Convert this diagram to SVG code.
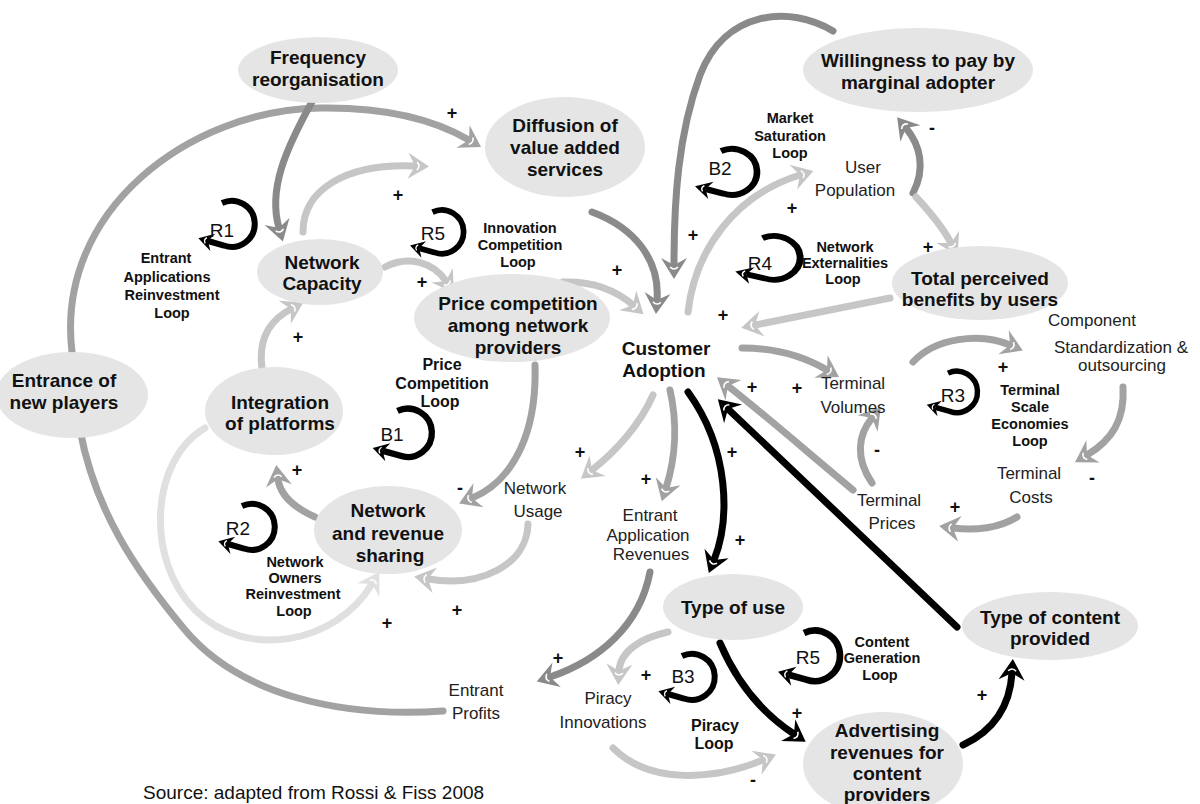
<svg xmlns="http://www.w3.org/2000/svg" width="1200" height="804" viewBox="0 0 1200 804">
<style>
.nd{fill:#e5e5e5}
.nt{font-family:"Liberation Sans",Arial,sans-serif;font-weight:bold;font-size:19px;text-anchor:middle;fill:#111}
.lb{font-family:"Liberation Sans",Arial,sans-serif;font-size:17px;text-anchor:middle;fill:#222}
.ll{font-family:"Liberation Sans",Arial,sans-serif;font-weight:bold;font-size:14.5px;text-anchor:middle;fill:#111}
.lm{font-family:"Liberation Sans",Arial,sans-serif;font-weight:bold;font-size:16px;text-anchor:middle;fill:#111}
.sg{font-family:"Liberation Sans",Arial,sans-serif;font-weight:bold;font-size:18px;text-anchor:middle;fill:#111}
.lt{font-family:"Liberation Sans",Arial,sans-serif;font-size:19px;text-anchor:middle;fill:#111}
.c{fill:none;stroke-width:7;stroke-linecap:round}
.k{stroke:#000;marker-end:url(#hk)}
.d{stroke:#8a8a8a;marker-end:url(#hd)}
.m{stroke:#a2a2a2;marker-end:url(#hm)}
.l{stroke:#c6c6c6;marker-end:url(#hl)}
.v{stroke:#e0e0e0;marker-end:url(#hv)}
.lp{fill:none;stroke:#000;stroke-width:6;marker-end:url(#hloop)}
.ft{font-family:"Liberation Sans",Arial,sans-serif;font-size:19px;fill:#111}
</style>
<defs>
<marker id="hk" viewBox="-1 -14 23 28" refX="7" refY="0" markerWidth="23" markerHeight="28" markerUnits="userSpaceOnUse" orient="auto"><path d="M0,-13 L21,0 L0,13 L7,0 Z" fill="#000"/><path d="M9,-4 Q13,0 9,4" fill="none" stroke="#fff" stroke-width="1.6"/></marker>
<marker id="hd" viewBox="-1 -14 23 28" refX="7" refY="0" markerWidth="23" markerHeight="28" markerUnits="userSpaceOnUse" orient="auto"><path d="M0,-13 L21,0 L0,13 L7,0 Z" fill="#8a8a8a"/><path d="M9,-4 Q13,0 9,4" fill="none" stroke="#fff" stroke-width="1.6"/></marker>
<marker id="hm" viewBox="-1 -14 23 28" refX="7" refY="0" markerWidth="23" markerHeight="28" markerUnits="userSpaceOnUse" orient="auto"><path d="M0,-13 L21,0 L0,13 L7,0 Z" fill="#a2a2a2"/><path d="M9,-4 Q13,0 9,4" fill="none" stroke="#fff" stroke-width="1.6"/></marker>
<marker id="hl" viewBox="-1 -14 23 28" refX="7" refY="0" markerWidth="23" markerHeight="28" markerUnits="userSpaceOnUse" orient="auto"><path d="M0,-13 L21,0 L0,13 L7,0 Z" fill="#c6c6c6"/><path d="M9,-4 Q13,0 9,4" fill="none" stroke="#fff" stroke-width="1.6"/></marker>
<marker id="hv" viewBox="-1 -14 23 28" refX="7" refY="0" markerWidth="23" markerHeight="28" markerUnits="userSpaceOnUse" orient="auto"><path d="M0,-13 L21,0 L0,13 L7,0 Z" fill="#e0e0e0"/><path d="M9,-4 Q13,0 9,4" fill="none" stroke="#fff" stroke-width="1.6"/></marker>
<marker id="hloop" viewBox="-1 -10 17 20" refX="5" refY="0" markerWidth="17" markerHeight="20" markerUnits="userSpaceOnUse" orient="auto"><path d="M0,-9 L15,0 L0,9 L5,0 Z" fill="#000"/><path d="M7,-3 Q10,0 7,3" fill="none" stroke="#fff" stroke-width="1.3"/></marker>
</defs>

<g id="connectors">
<path class="c m" d="M72,352 C55,210 190,110 320,108 C390,107 435,120 469,140"/>
<path class="c" stroke="#a2a2a2" d="M443,711 C340,718 240,695 185,630 C135,570 95,510 80,430"/>
<path class="c d" d="M313,100 C285,150 268,190 279,228"/>
<path class="c l" d="M303,232 C303,190 345,163 415,166"/>
<path class="c d" d="M592,212 C635,228 660,260 657,300"/>
<path class="c d" d="M833,31 C790,5 725,10 700,75 C678,135 674,200 674,265"/>
<path class="c l" d="M688,312 C695,250 735,195 800,175"/>
<path class="c d" d="M913,193 C926,168 920,145 906,128"/>
<path class="c l" d="M916,197 C930,212 943,228 951,243"/>
<path class="c l" d="M890,298 L755,325"/>
<path class="c m" d="M742,348 C775,348 805,357 827,370"/>
<path class="c m" d="M853,490 C805,450 765,415 728,386"/>
<path class="c m" d="M872,483 C855,458 858,435 872,418"/>
<path class="c m" d="M913,362 C935,338 980,332 1010,345"/>
<path class="c m" d="M1123,387 C1125,420 1112,440 1087,455"/>
<path class="c m" d="M1017,517 C1000,528 975,531 953,528"/>
<path class="c k" stroke-width="8" d="M957,627 L728,409"/>
<path class="c k" d="M688,392 C730,450 730,520 714,560"/>
<path class="c k" d="M720,643 C738,685 765,715 794,734"/>
<path class="c k" d="M963,745 C995,730 1010,705 1012,673"/>
<path class="c l" d="M653,395 C640,425 615,452 592,470"/>
<path class="c m" d="M670,390 C678,425 675,460 666,488"/>
<path class="c d" d="M650,572 C640,625 600,660 550,677"/>
<path class="c l" d="M668,632 C640,638 620,652 619,671"/>
<path class="c l" d="M613,748 C650,785 715,780 763,760"/>
<path class="c m" d="M535,365 C537,430 515,480 472,498"/>
<path class="c l" d="M528,524 C527,565 480,588 428,579"/>
<path class="c m" d="M315,517 C295,508 280,495 278,479"/>
<path class="c l" d="M262,368 C258,338 270,320 291,309"/>
<path class="c l" d="M385,267 C408,255 433,262 446,281"/>
<path class="c l" d="M563,282 C595,281 618,292 633,305"/>
<path class="c v" stroke-width="8" d="M205,428 C150,460 145,560 195,610 C245,660 335,645 372,584"/>
</g>

<g id="node-frequency"><ellipse class="nd" cx="318" cy="70" rx="80" ry="33"/><text class="nt" x="318" y="64">Frequency</text><text class="nt" x="318" y="86">reorganisation</text></g>
<g id="node-diffusion"><ellipse class="nd" cx="565" cy="147" rx="80" ry="50"/><text class="nt" x="565" y="132">Diffusion of</text><text class="nt" x="565" y="154">value added</text><text class="nt" x="565" y="176">services</text></g>
<g id="node-willingness"><ellipse class="nd" cx="918" cy="70" rx="115" ry="42"/><text class="nt" x="918" y="67">Willingness to pay by</text><text class="nt" x="918" y="89">marginal adopter</text></g>
<g id="node-capacity"><ellipse class="nd" cx="320" cy="272" rx="63" ry="33"/><text class="nt" x="322" y="269">Network</text><text class="nt" x="322" y="290">Capacity</text></g>
<g id="node-price"><ellipse class="nd" cx="512" cy="318" rx="98" ry="44"/><text class="nt" x="518" y="310">Price competition</text><text class="nt" x="518" y="332">among network</text><text class="nt" x="518" y="354">providers</text></g>
<g id="node-customer"><text class="nt" x="666" y="355">Customer</text><text class="nt" x="664" y="377">Adoption</text></g>
<g id="node-total"><ellipse class="nd" cx="980" cy="283" rx="88" ry="37"/><text class="nt" x="980" y="285">Total perceived</text><text class="nt" x="980" y="306">benefits by users</text></g>
<g id="node-entrance"><ellipse class="nd" cx="72" cy="395" rx="76" ry="43"/><text class="nt" x="64" y="387">Entrance of</text><text class="nt" x="64" y="409">new players</text></g>
<g id="node-integration"><ellipse class="nd" cx="274" cy="411" rx="69" ry="44"/><text class="nt" x="280" y="409">Integration</text><text class="nt" x="280" y="430">of platforms</text></g>
<g id="node-sharing"><ellipse class="nd" cx="388" cy="530" rx="74" ry="44"/><text class="nt" x="388" y="517">Network</text><text class="nt" x="388" y="540">and revenue</text><text class="nt" x="390" y="562">sharing</text></g>
<g id="node-typeofuse"><ellipse class="nd" cx="733" cy="607" rx="70" ry="33"/><text class="nt" x="733" y="614">Type of use</text></g>
<g id="node-typeofcontent"><ellipse class="nd" cx="1050" cy="626" rx="88" ry="34"/><text class="nt" x="1050" y="624">Type of content</text><text class="nt" x="1050" y="645">provided</text></g>
<g id="node-advertising"><ellipse class="nd" cx="883" cy="764" rx="80" ry="52"/><text class="nt" x="887" y="737">Advertising</text><text class="nt" x="887" y="759">revenues for</text><text class="nt" x="887" y="780">content</text><text class="nt" x="887" y="801">providers</text></g>

<g id="node-user"><text class="lb" x="863" y="173">User</text><text class="lb" x="855" y="196">Population</text></g>
<g id="node-usage"><text class="lb" x="535" y="494">Network</text><text class="lb" x="538" y="517">Usage</text></g>
<g id="node-apprev"><text class="lb" x="650" y="521">Entrant</text><text class="lb" x="648" y="541">Application</text><text class="lb" x="651" y="560">Revenues</text></g>
<g id="node-tvol"><text class="lb" x="853" y="389">Terminal</text><text class="lb" x="853" y="413">Volumes</text></g>
<g id="node-tprice"><text class="lb" x="889" y="506">Terminal</text><text class="lb" x="892" y="529">Prices</text></g>
<g id="node-tcost"><text class="lb" x="1029" y="479">Terminal</text><text class="lb" x="1031" y="503">Costs</text></g>
<g id="node-component"><text class="lb" x="1092" y="326">Component</text><text class="lb" x="1121" y="353">Standardization &amp;</text><text class="lb" x="1122" y="371">outsourcing</text></g>
<g id="node-profits"><text class="lb" x="476" y="696">Entrant</text><text class="lb" x="476" y="719">Profits</text></g>
<g id="node-piracy"><text class="lb" x="608" y="704">Piracy</text><text class="lb" x="603" y="728">Innovations</text></g>

<g id="loops">
<path class="lp" transform="translate(232,224)" d="M-10,-21 A23,23 0 1 1 -8,21.5 L-24,17"/>
<text class="lt" x="222" y="237">R1</text>
<path class="lp" transform="translate(442,232) scale(0.95)" d="M-10,-21 A23,23 0 1 1 -8,21.5 L-24,17"/>
<text class="lt" x="433" y="240">R5</text>
<path class="lp" transform="translate(732,172) scale(1.1,1)" d="M-10,-21 A23,23 0 1 1 -8,21.5 L-24,17"/>
<text class="lt" x="720" y="175">B2</text>
<path class="lp" transform="translate(774,258) scale(1.15,0.95)" d="M-10,-21 A23,23 0 1 1 -8,21.5 L-24,17"/>
<text class="lt" x="760" y="270">R4</text>
<path class="lp" transform="translate(957,392) scale(0.9)" d="M-10,-21 A23,23 0 1 1 -8,21.5 L-24,17"/>
<text class="lt" x="953" y="402">R3</text>
<path class="lp" transform="translate(408,433) scale(1.05)" d="M-10,-21 A23,23 0 1 1 -8,21.5 L-24,17"/>
<text class="lt" x="392" y="441">B1</text>
<path class="lp" transform="translate(252,527)" d="M-10,-21 A23,23 0 1 1 -8,21.5 L-24,17"/>
<text class="lt" x="238" y="535">R2</text>
<path class="lp" transform="translate(692,677)" d="M-10,-21 A23,23 0 1 1 -8,21.5 L-24,17"/>
<text class="lt" x="683" y="683">B3</text>
<path class="lp" transform="translate(815,656) scale(1.1)" d="M-10,-21 A23,23 0 1 1 -8,21.5 L-24,17"/>
<text class="lt" x="808" y="664">R5</text>
</g>

<g id="loop-labels">
<text class="ll" x="166" y="263">Entrant</text><text class="ll" x="167" y="282">Applications</text><text class="ll" x="172" y="300">Reinvestment</text><text class="ll" x="172" y="318">Loop</text>
<text class="ll" x="520" y="233">Innovation</text><text class="ll" x="520" y="250">Competition</text><text class="ll" x="518" y="267">Loop</text>
<text class="ll" x="790" y="123">Market</text><text class="ll" x="790" y="141">Saturation</text><text class="ll" x="790" y="158">Loop</text>
<text class="ll" x="845" y="252">Network</text><text class="ll" x="845" y="268">Externalities</text><text class="ll" x="843" y="284">Loop</text>
<text class="lm" x="442" y="370">Price</text><text class="lm" x="442" y="389">Competition</text><text class="lm" x="440" y="407">Loop</text>
<text class="ll" x="1030" y="395">Terminal</text><text class="ll" x="1030" y="412">Scale</text><text class="ll" x="1030" y="429">Economies</text><text class="ll" x="1030" y="446">Loop</text>
<text class="ll" x="295" y="567">Network</text><text class="ll" x="295" y="583">Owners</text><text class="ll" x="293" y="599">Reinvestment</text><text class="ll" x="294" y="616">Loop</text>
<text class="lm" x="715" y="731">Piracy</text><text class="lm" x="714" y="749">Loop</text>
<text class="ll" x="882" y="647">Content</text><text class="ll" x="882" y="663">Generation</text><text class="ll" x="880" y="680">Loop</text>
</g>

<g id="signs">
<text class="sg" x="452" y="119">+</text><text class="sg" x="398" y="201">+</text><text class="sg" x="298" y="343">+</text><text class="sg" x="422" y="288">+</text>
<text class="sg" x="617" y="276">+</text><text class="sg" x="693" y="241">+</text><text class="sg" x="792" y="214">+</text><text class="sg" x="928" y="253">+</text>
<text class="sg" x="723" y="321">+</text><text class="sg" x="752" y="393">+</text><text class="sg" x="797" y="394">+</text><text class="sg" x="1003" y="373">+</text>
<text class="sg" x="955" y="513">+</text><text class="sg" x="732" y="458">+</text><text class="sg" x="740" y="546">+</text><text class="sg" x="580" y="458">+</text>
<text class="sg" x="646" y="485">+</text><text class="sg" x="297" y="476">+</text><text class="sg" x="457" y="616">+</text><text class="sg" x="387" y="629">+</text>
<text class="sg" x="558" y="664">+</text><text class="sg" x="646" y="681">+</text><text class="sg" x="797" y="719">+</text><text class="sg" x="982" y="701">+</text>
<text class="sg" x="932" y="134">-</text><text class="sg" x="877" y="456">-</text><text class="sg" x="1092" y="484">-</text><text class="sg" x="460" y="494">-</text><text class="sg" x="753" y="786">-</text>
</g>

<text class="ft" x="143" y="799">Source: adapted from Rossi &amp; Fiss 2008</text>
</svg>
